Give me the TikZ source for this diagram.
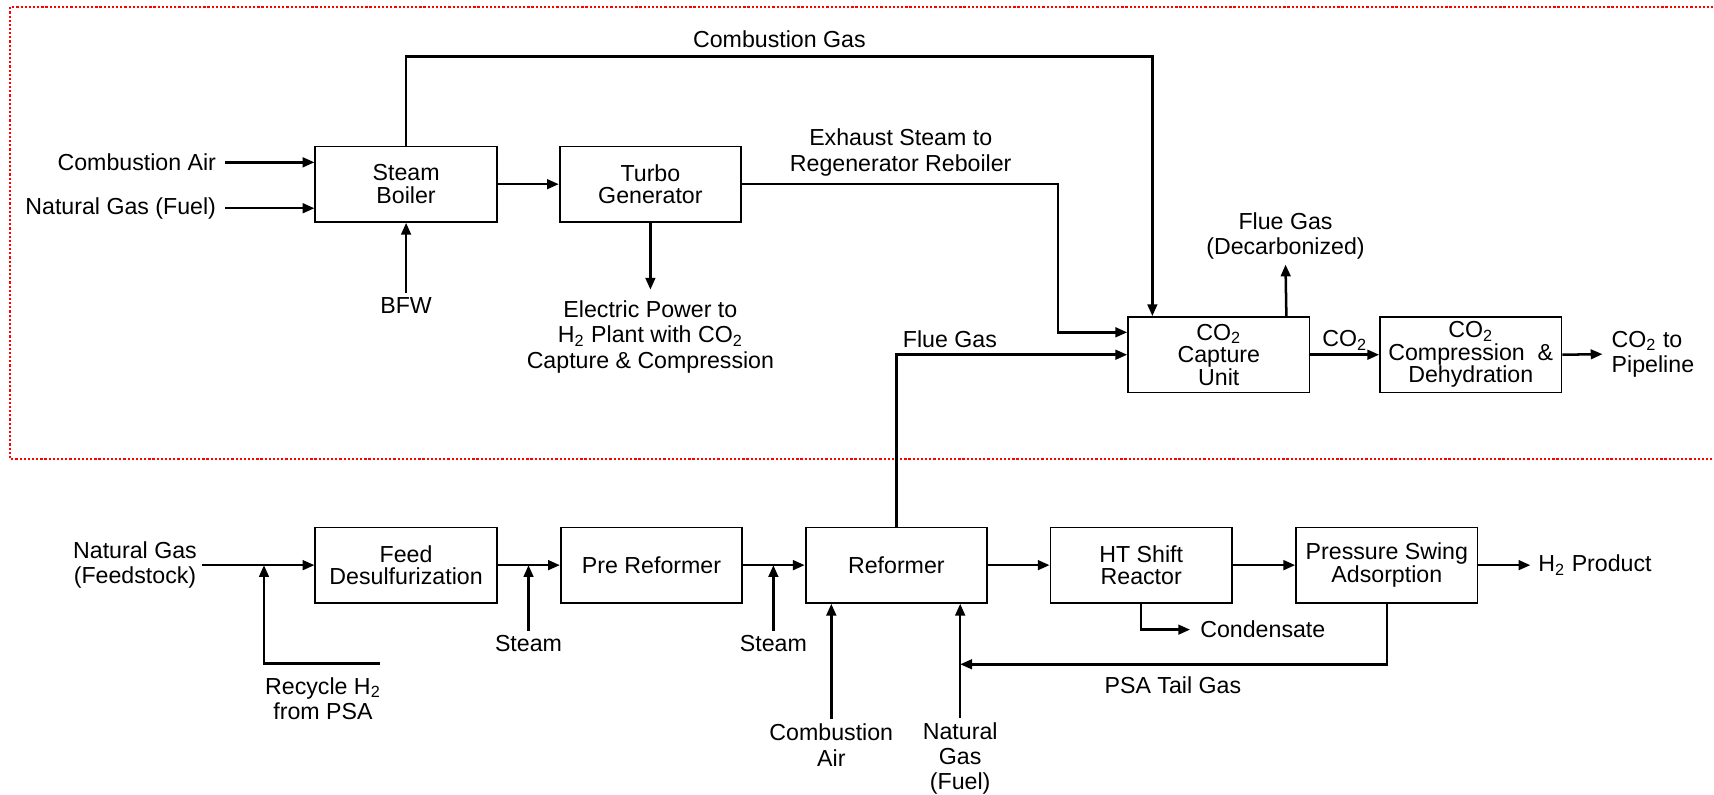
\documentclass[tikz,border=0pt]{standalone}
\usepackage{fontspec}
\setmainfont{Liberation Sans}
\usetikzlibrary{arrows.meta,calc}
\newcommand{\COtwo}{CO\textsubscript{2}}
\newcommand{\Htwo}{H\textsubscript{2}}
\newcommand{\unitfont}{\fontsize{10.6}{10.3}\selectfont\lineskiplimit=-20pt}

\begin{document}
\begin{tikzpicture}[
  x=0.5pt, y=-0.5pt,
  font=\fontsize{10.6}{11.5}\selectfont,
  unit/.style={draw, line width=0.8pt, minimum width=83pt, minimum height=34.5pt,
    inner sep=0pt, align=center, font=\unitfont},
  flow/.style={draw, line width=1.15pt, -{Triangle[length=5.4pt,width=4.4pt]}},
  lbl/.style={inner sep=2pt, align=center},
  zone/.style={draw=red, line width=1pt, dash pattern=on 1pt off 0.9pt}]
  \useasboundingbox (0,0) rectangle (1568,727);
  \draw[zone] (1575,6.5) -- (9.5,6.5) -- (9.5,420) -- (1575,420);

  \node[unit] (boiler) at (371.5,168.5) {Steam\\Boiler};
  \node[unit] (turbo) at (595,168.5) {Turbo\\Generator};
  \node[unit] (capture) at (1115,324.5) {\COtwo\\Capture\\Unit};
  \node[unit] (compress) at (1345.5,324.5) {\COtwo\\Compression~~\&\\Dehydration};
  \node[unit] (desulf) at (371.5,517) {Feed\\Desulfurization};
  \node[unit] (prerefo) at (596,517) {Pre Reformer};
  \node[unit] (reformer) at (820,517) {Reformer};
  \node[unit] (shift) at (1044,517) {HT Shift\\Reactor};
  \node[unit] (psa) at (1268.7,517) {Pressure Swing\\Adsorption};

  \node[lbl, anchor=east, inner xsep=4pt] (air) at (206,148.5) {Combustion Air};
  \node[lbl, anchor=east, inner xsep=4pt] (fuel) at (206,190.5) {Natural Gas (Fuel)};
  \node[lbl, anchor=north] (bfw) at (371.5,268) {BFW};
  \node[lbl, anchor=north, inner ysep=5pt] (power) at (595,265)
    {Electric Power to\\\Htwo{} Plant with \COtwo\\Capture \& Compression};
  \node[lbl] (cgas) at (713,35.7) {Combustion Gas};
  \node[lbl] (exhaust) at (824,139.5) {Exhaust Steam to\\Regenerator Reboiler};
  \node[lbl] (flue) at (869,310) {Flue Gas};
  \node[lbl, anchor=south] (decarb) at (1176,242) {Flue Gas\\(Decarbonized)};
  \node[lbl, anchor=west, inner xsep=4pt, align=left] (pipeline) at (1466,324) {\COtwo{} to\\Pipeline};
  \node[lbl] (ngfeed) at (123.5,517) {Natural Gas\\(Feedstock)};
  \node[lbl] (recycle) at (295.5,639) {Recycle \Htwo\\from PSA};
  \node[lbl, anchor=north] (steam1) at (483.5,577) {Steam};
  \node[lbl, anchor=north] (steam2) at (707.5,577) {Steam};
  \node[lbl, anchor=north] (combair) at (760.5,658) {Combustion\\Air};
  \node[lbl, anchor=north] (ngfuel) at (878.4,656.5) {Natural\\Gas\\(Fuel)};
  \node[lbl, anchor=west, inner xsep=4.5pt] (cond) at (1088.7,576) {Condensate};
  \node[lbl] (tailgas) at (1073,627) {PSA Tail Gas};
  \node[lbl, anchor=west, inner xsep=3.5pt] (h2prod) at (1400,517) {\Htwo{} Product};
  \coordinate (rcend) at (348,607);
  \coordinate (rcjoin) at (241.5,517);
  \coordinate (tgjoin) at (878.4,607.7);

  \draw[flow] (air.east) -- (air.east -| boiler.west);
  \draw[flow] (fuel.east) -- (fuel.east -| boiler.west);
  \draw[flow] (bfw.north) -- (boiler.south);
  \draw[flow] (boiler) -- (turbo);
  \draw[flow] (turbo.south) -- (power.north);
  \draw[flow] (boiler.north) -- ++(0,-81.6) -| ([xshift=11.5pt]capture.north west);
  \draw[flow] (turbo.east) -- ++(289,0) |- ([yshift=10.25pt]capture.west);
  \draw[flow] (reformer.north) |- (capture.west);
  \draw[flow] ([xshift=-11pt]capture.north east) -- (decarb.south);
  \draw[flow] (capture) -- node[above, inner sep=1.5pt] (co2lbl) {\COtwo} (compress);
  \draw[flow] (compress.east) -- (pipeline.west);

  \draw[flow] (ngfeed.east) -- (ngfeed.east -| desulf.west);
  \draw[flow] (rcend) -| (rcjoin);
  \draw[flow] (desulf) -- (prerefo);
  \draw[flow] (steam1.north) -- (steam1.north |- desulf.east);
  \draw[flow] (prerefo) -- (reformer);
  \draw[flow] (steam2.north) -- (steam2.north |- prerefo.east);
  \draw[flow] (reformer) -- (shift);
  \draw[flow] (shift) -- (psa);
  \draw[flow] (psa.east) -- (h2prod.west);
  \draw[flow] (combair.north) -- (combair.north |- reformer.south);
  \draw[flow] (ngfuel.north) -- (ngfuel.north |- reformer.south);
  \draw[flow] (shift.south) |- (cond.west);
  \draw[flow] (psa.south) |- (tgjoin);
\end{tikzpicture}
\end{document}
